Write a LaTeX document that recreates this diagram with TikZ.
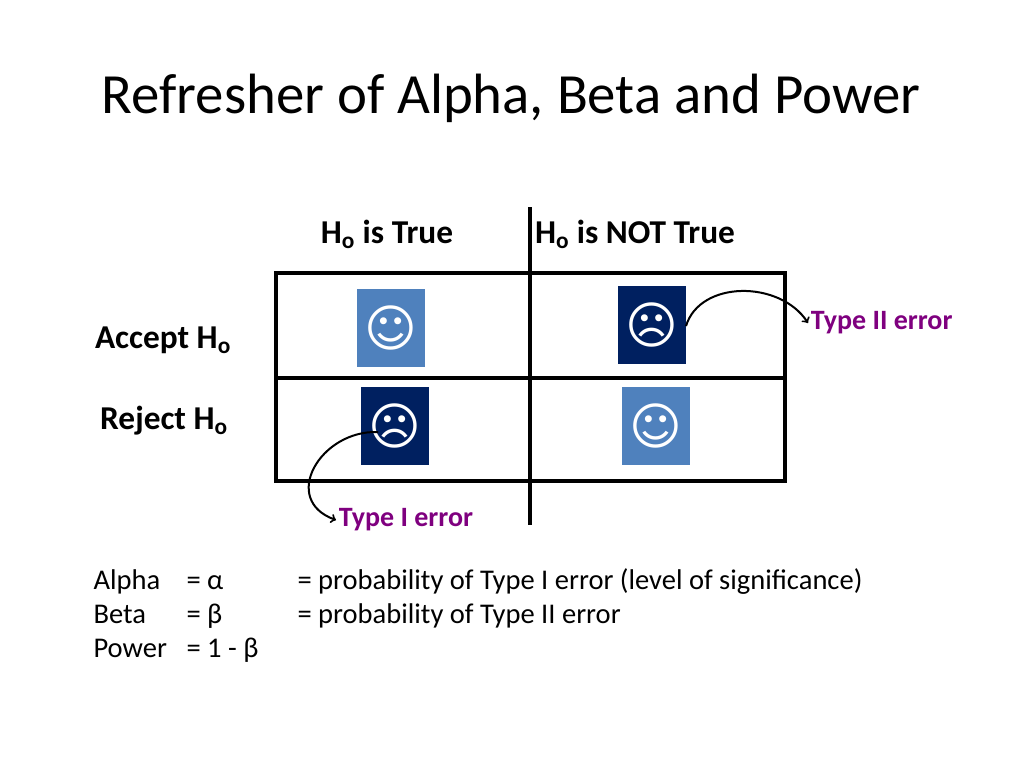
\documentclass[tikz,border=0pt]{standalone}
\usepackage{fontspec}
\setmainfont{Carlito}
\newfontfamily\facefont{DejaVu Sans}
\usetikzlibrary{positioning}
\definecolor{lightface}{HTML}{4F81BD}
\definecolor{darkface}{HTML}{002060}
\definecolor{errcol}{HTML}{7F007F}
\tikzset{
  head/.style={font=\fontsize{25}{30}\selectfont\bfseries, inner sep=0pt},
  body/.style={font=\fontsize{21.4}{25}\selectfont, anchor=base west, inner sep=0pt},
  err/.style={font=\fontsize{21}{24}\selectfont\bfseries, text=errcol, anchor=west, inner sep=1pt},
  face/.style={minimum width=51pt, minimum height=58pt, inner sep=0pt, text=white,
    font=\facefont\fontsize{38}{38}\selectfont},
}
\begin{document}
\begin{tikzpicture}[x=0.75pt, y=-0.75pt, line width=2.3pt]
  \useasboundingbox (0,0) rectangle (1024,768);
  % title
  \node[font=\fontsize{42.6}{50}\selectfont, inner sep=0pt] (title) at (511,98) {Refresher of Alpha, Beta and Power};
  % table
  \draw (276,273) rectangle (785,481);
  \draw (276,378) -- (785,378);
  \draw (530,207) -- (530,525);
  % headers
  \node[head] (htrue) at (387,234) {H\textsubscript{o} is True};
  \node[head] (hnot) at (635,234) {H\textsubscript{o} is NOT True};
  \node[head] (acc) at (163,340) {Accept H\textsubscript{o}};
  \node[head] (rej) at (164,421) {Reject H\textsubscript{o}};
  % faces
  \node[face, fill=lightface] (f1) at (391,328) {☺};
  \node[face, fill=darkface] (f2) at (652,325) {☹};
  \node[face, fill=darkface] (f3) at (395,426) {☹};
  \node[face, fill=lightface] (f4) at (656,426) {☺};
  % errors
  \node[err] (e2) at (808,323) {Type II error};
  \node[err] (e1) at (336,520) {Type I error};
  \draw[->, line width=1.5pt] (686,326) .. controls (700,280) and (780,280) .. (e2.west);
  \draw[->, line width=1.5pt] (378,432) .. controls (320,430) and (280,500) .. (e1.west);
  % legend
  \node[body] (a1) at (92,589) {Alpha};
  \node[body] (a2) at (185,589) {= α};
  \node[body] (a3) at (296,589) {= probability of Type I error (level of significance)};
  \node[body] (b1) at (92,623) {Beta};
  \node[body] (b2) at (185,623) {= β};
  \node[body] (b3) at (296,623) {= probability of Type II error};
  \node[body] (p1) at (92,657) {Power};
  \node[body] (p2) at (185,657) {= 1 - β};
\end{tikzpicture}
\end{document}
